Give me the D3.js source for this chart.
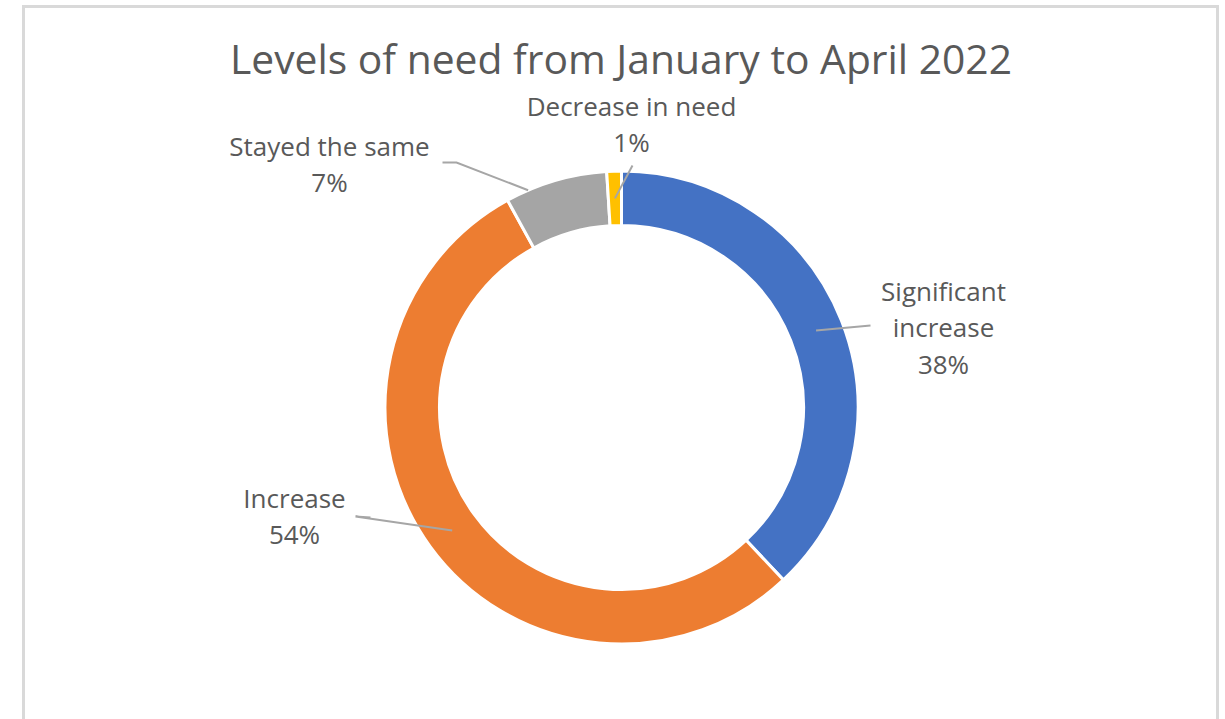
<!DOCTYPE html>
<html>
<head>
<meta charset="utf-8">
<script src="https://cdn.jsdelivr.net/npm/d3@7"></script>
<style>
  html, body { margin: 0; padding: 0; background: #fff; }
  svg { display: block; }
</style>
</head>
<body>
<svg id="chart" width="1225" height="719"></svg>
<script>
// Survey responses: change in level of need
const categories = ["Significant increase", "Increase", "Stayed the same", "Decrease in need"];
const values = [38, 54, 7, 1];
const colors = ["#4472C4", "#ED7D31", "#A5A5A5", "#FFC000"];
const labelLines = [["Significant", "increase"], ["Increase"], ["Stayed the same"], ["Decrease in need"]];
const titleText = "Levels of need from January to April 2022";

// Layout
const W = 1225, H = 719;
const cx = 621.5, cy = 407.5;
const outerR = 236.5, innerR = 182;
const fontFamily = "'Open Sans', sans-serif";
const textColor = "#595959";
const lineH = 36.5;

// Label placement relative to the donut centre: text centre x, first baseline y,
// leader elbow points and the point where the leader meets the slice
// (anchor: fraction along the slice, radius: "mid" or "outer").
const labelLayout = [
  { tx: 322, ty: -107, elbows: [[249, -82]], anchor: 0.5, radius: "mid" },
  { tx: -327, ty: 100, elbows: [[-266, 109], [-251, 110]], anchor: 0.5, radius: "mid" },
  { tx: -292, ty: -252, elbows: [[-165, -245], [-179, -245]], anchor: 0.22, radius: "outer" },
  { tx: 10, ty: -292, elbows: [[11, -242]], anchor: 0.5, radius: "mid" }
];

const svg = d3.select("#chart");

// Chart frame
svg.append("rect")
  .attr("x", 23.5).attr("y", 6.5)
  .attr("width", 1194).attr("height", 730)
  .attr("fill", "#fff")
  .attr("stroke", "#D9D9D9")
  .attr("stroke-width", 3);

// Title
svg.append("text")
  .attr("x", 621).attr("y", 74)
  .attr("text-anchor", "middle")
  .attr("font-family", fontFamily)
  .attr("font-size", 40.8)
  .attr("fill", textColor)
  .text(titleText);

const pie = d3.pie().sort(null).value(d => d)
  .startAngle(0).endAngle(2 * Math.PI);
const arcs = pie(values);
const arc = d3.arc().innerRadius(innerR).outerRadius(outerR);

const g = svg.append("g").attr("transform", `translate(${cx},${cy})`);

g.selectAll("path.slice")
  .data(arcs)
  .join("path")
  .attr("class", "slice")
  .attr("d", arc)
  .attr("fill", (d, i) => colors[i])
  .attr("stroke", "#fff")
  .attr("stroke-width", 3)
  .attr("stroke-linejoin", "miter");

// Leader lines
arcs.forEach((a, i) => {
  const L = labelLayout[i];
  const ang = a.startAngle + (a.endAngle - a.startAngle) * L.anchor;
  const r = L.radius === "outer" ? outerR : (innerR + outerR) / 2;
  const p0 = [r * Math.sin(ang), -r * Math.cos(ang)];
  const pts = [p0, ...L.elbows];
  g.append("path")
    .attr("d", d3.line()(pts))
    .attr("fill", "none")
    .attr("stroke", "#A6A6A6")
    .attr("stroke-width", 2);
});

// Data labels
arcs.forEach((a, i) => {
  const L = labelLayout[i];
  const lines = [...labelLines[i], `${values[i]}%`];
  const t = g.append("text")
    .attr("text-anchor", "middle")
    .attr("font-family", fontFamily)
    .attr("font-size", 26)
    .attr("fill", textColor);
  lines.forEach((s, k) => {
    t.append("tspan")
      .attr("x", L.tx)
      .attr("y", L.ty + k * lineH)
      .text(s);
  });
});
</script>
</body>
</html>
